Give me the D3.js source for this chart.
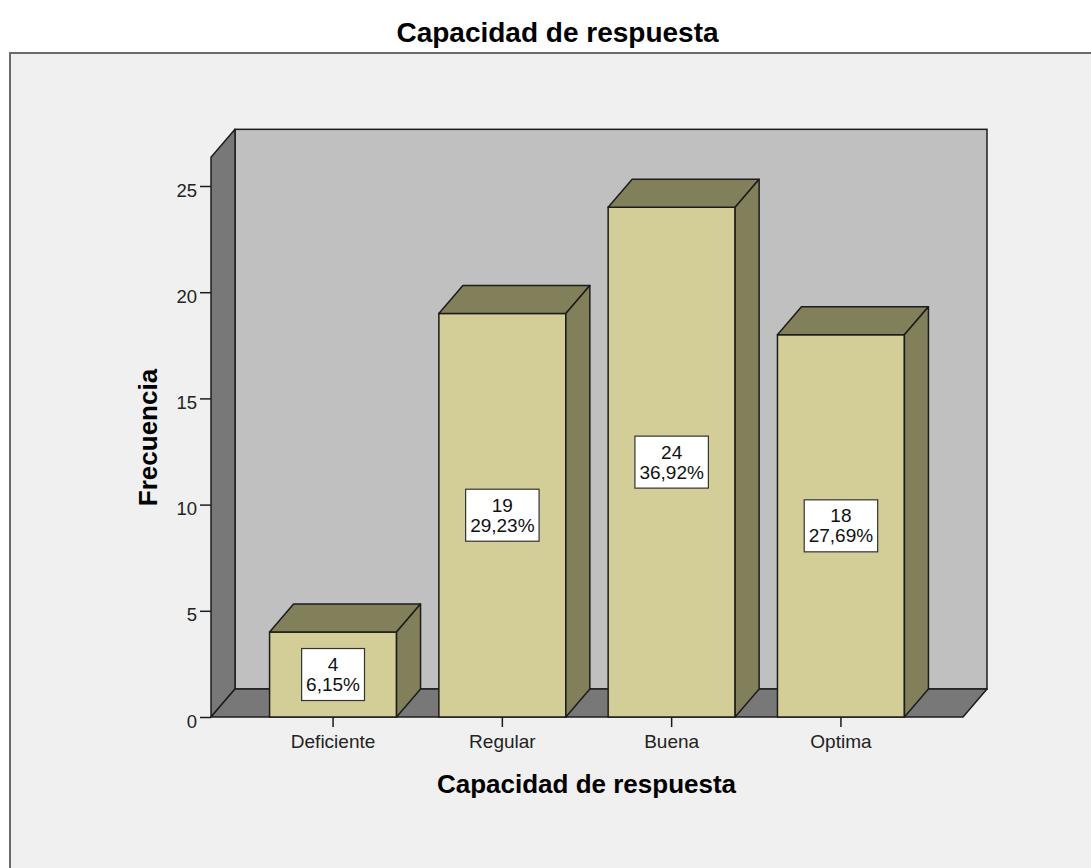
<!DOCTYPE html>
<html>
<head>
<meta charset="utf-8">
<script src="https://cdn.jsdelivr.net/npm/d3@7"></script>
<style>
  html, body { margin: 0; padding: 0; background: #ffffff; }
  svg { display: block; }
  text { font-family: "Liberation Sans", Arial, sans-serif; }
</style>
</head>
<body>
<svg id="chart" width="1091" height="868"></svg>
<script>
// ---- data ----
const categories = ["Deficiente", "Regular", "Buena", "Optima"];
const counts = [4, 19, 24, 18];
const percents = ["6,15%", "29,23%", "36,92%", "27,69%"];
const yTicks = [0, 5, 10, 15, 20, 25];
const chartTitle = "Capacidad de respuesta";
const xTitle = "Capacidad de respuesta";
const yTitle = "Frecuencia";
const wallTop = 26.35;

// ---- layout ----
const W = 1091, H = 868;
const plotLeft = 211, plotRight = 963, plotBottom = 717;
const dx = 24, dy = 28;

const svg = d3.select("#chart");

// frame
svg.append("rect").attr("x", 0).attr("y", 0).attr("width", W).attr("height", H).attr("fill", "#ffffff");
svg.append("rect").attr("x", 10).attr("y", 53).attr("width", W + 20).attr("height", H + 20)
  .attr("fill", "#f0f0f0").attr("stroke", "#6a6a6a").attr("stroke-width", 2);

const x = d3.scaleBand().domain(categories).range([plotLeft, plotRight])
  .paddingInner(0.25).paddingOuter(0.346);
const y = d3.scaleLinear().domain([0, 25]).range([plotBottom, 186]);

const outline = "#1c1c1c";
const g = svg.append("g");

// back wall
g.append("rect")
  .attr("x", plotLeft + dx).attr("y", y(wallTop) - dy)
  .attr("width", plotRight - plotLeft).attr("height", y(0) - y(wallTop))
  .attr("fill", "#c0c0c0").attr("stroke", outline).attr("stroke-width", 1.5);

// left wall
g.append("polygon")
  .attr("points", [[plotLeft, y(0)], [plotLeft, y(wallTop)], [plotLeft + dx, y(wallTop) - dy], [plotLeft + dx, y(0) - dy]].map(p => p.join(",")).join(" "))
  .attr("fill", "#787878").attr("stroke", outline).attr("stroke-width", 1.5).attr("stroke-linejoin", "round");

// floor
g.append("polygon")
  .attr("points", [[plotLeft, y(0)], [plotLeft + dx, y(0) - dy], [plotRight + dx, y(0) - dy], [plotRight, y(0)]].map(p => p.join(",")).join(" "))
  .attr("fill", "#787878").attr("stroke", outline).attr("stroke-width", 1.5).attr("stroke-linejoin", "round");

// bars
const bars = g.selectAll("g.bar").data(categories.map((c, i) => ({ c, v: counts[i], p: percents[i] })))
  .enter().append("g").attr("class", "bar");

bars.append("rect")
  .attr("x", d => x(d.c)).attr("y", d => y(d.v))
  .attr("width", x.bandwidth()).attr("height", d => y(0) - y(d.v))
  .attr("fill", "#d3ce98").attr("stroke", outline).attr("stroke-width", 1.5);

bars.append("polygon")
  .attr("points", d => {
    const x0 = x(d.c), x1 = x0 + x.bandwidth(), yt = y(d.v);
    return [[x0, yt], [x0 + dx, yt - dy], [x1 + dx, yt - dy], [x1, yt]].map(p => p.join(",")).join(" ");
  })
  .attr("fill", "#827f5b").attr("stroke", outline).attr("stroke-width", 1.5).attr("stroke-linejoin", "round");

bars.append("polygon")
  .attr("points", d => {
    const x1 = x(d.c) + x.bandwidth(), yt = y(d.v), yb = y(0);
    return [[x1, yt], [x1 + dx, yt - dy], [x1 + dx, yb - dy], [x1, yb]].map(p => p.join(",")).join(" ");
  })
  .attr("fill", "#827f5b").attr("stroke", outline).attr("stroke-width", 1.5).attr("stroke-linejoin", "round");

// value labels
bars.each(function (d) {
  const b = d3.select(this);
  const cx = x(d.c) + x.bandwidth() / 2;
  const cy = y(d.v / 2);
  const box = b.append("rect").attr("fill", "#ffffff").attr("stroke", "#333333").attr("stroke-width", 1.2);
  const t1 = b.append("text").attr("x", cx).attr("y", cy - 3.5).attr("text-anchor", "middle")
    .attr("font-size", 19).attr("fill", "#111").text(d.v);
  const t2 = b.append("text").attr("x", cx).attr("y", cy + 16.5).attr("text-anchor", "middle")
    .attr("font-size", 19).attr("fill", "#111").text(d.p);
  const w = Math.max(t1.node().getComputedTextLength(), t2.node().getComputedTextLength()) + 9;
  box.attr("x", cx - w / 2).attr("y", cy - 26).attr("width", w).attr("height", 52);
});

// y axis
const yAxis = d3.axisLeft(y).tickValues(yTicks).tickSize(11).tickPadding(3).tickFormat(d3.format("d"));
const ya = svg.append("g").attr("transform", `translate(${plotLeft},0)`).call(yAxis);
ya.select(".domain").remove();
ya.selectAll(".tick line").attr("stroke", outline).attr("stroke-width", 1.5);
ya.selectAll(".tick text").attr("font-size", 18.5).attr("fill", "#222").attr("dy", "0.55em")
  .style("font-family", '"Liberation Sans", Arial, sans-serif');

// x axis
const xAxis = d3.axisBottom(x).tickSize(10).tickPadding(8);
const xa = svg.append("g").attr("transform", `translate(0,${plotBottom})`).call(xAxis);
xa.select(".domain").remove();
xa.selectAll(".tick line").attr("stroke", outline).attr("stroke-width", 1.5);
xa.selectAll(".tick text").attr("font-size", 19).attr("fill", "#222")
  .style("font-family", '"Liberation Sans", Arial, sans-serif');

// titles
svg.append("text").attr("x", 557.5).attr("y", 41.5).attr("text-anchor", "middle")
  .attr("font-size", 28).attr("font-weight", "bold").attr("fill", "#000").text(chartTitle);
svg.append("text").attr("x", 586.5).attr("y", 793).attr("text-anchor", "middle")
  .attr("font-size", 26).attr("font-weight", "bold").attr("fill", "#000").text(xTitle);
svg.append("text").attr("transform", "translate(157,437.5) rotate(-90)").attr("text-anchor", "middle")
  .attr("font-size", 26).attr("font-weight", "bold").attr("fill", "#000").text(yTitle);
</script>
</body>
</html>
